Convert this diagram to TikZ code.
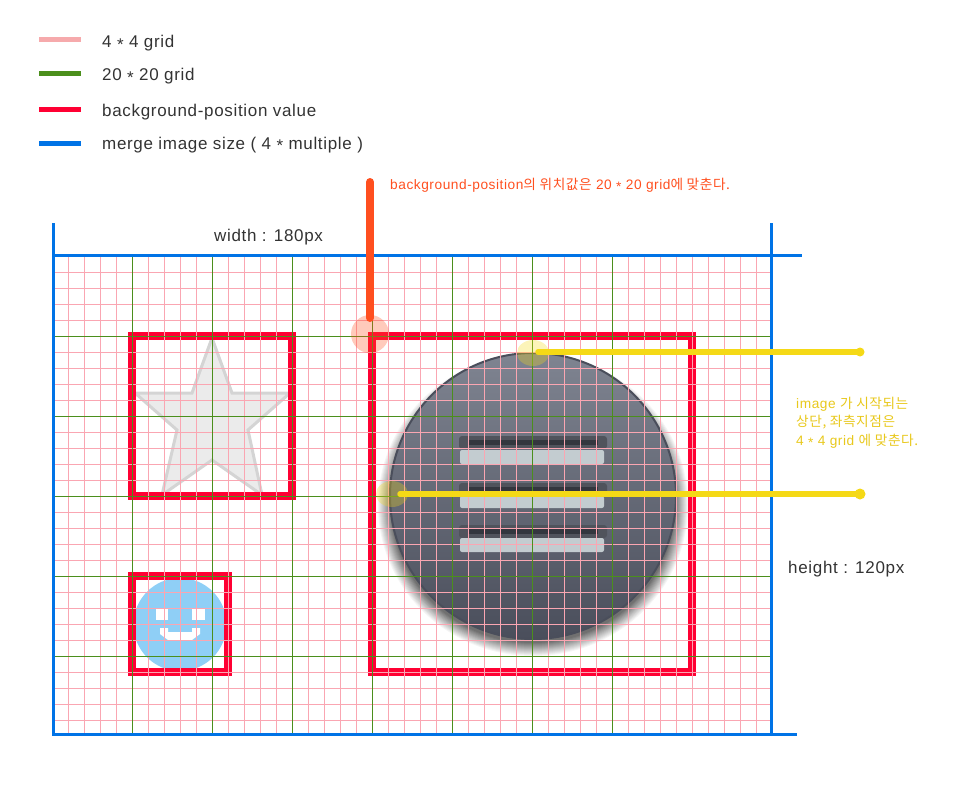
\documentclass[tikz,border=0pt]{standalone}
\usepackage{fontspec}
\setmainfont{Liberation Sans}[LetterSpace=4]
\newfontfamily\cjk{Noto Sans CJK KR}[LetterSpace=4]
\usetikzlibrary{
  positioning,
  shapes.geometric,
}
\definecolor{gridpink}{HTML}{FAA6B2}
\definecolor{legendpink}{HTML}{F6AAAC}
\definecolor{gridgreen}{HTML}{4B8F1C}
\definecolor{posred}{HTML}{FF0033}
\definecolor{sizeblue}{HTML}{0073E6}
\definecolor{noteorange}{HTML}{FF4F1F}
\definecolor{noteyellow}{HTML}{F5D916}
\definecolor{yellowtext}{HTML}{E8C81C}
\definecolor{darktext}{HTML}{333333}
\definecolor{smileblue}{HTML}{8FCFF6}
\definecolor{barlight}{HTML}{C3CCD0}
\definecolor{bardark}{HTML}{33363E}
\definecolor{barshade}{HTML}{50535C}
\definecolor{icontop}{HTML}{7F8491}
\definecolor{iconbottom}{HTML}{4A4E5B}
\newcommand{\gridstar}{\raisebox{-.3ex}{*}}
\tikzset{
  legendline/.style={line width=4.5pt},
  legendtext/.style={anchor=base west,inner sep=0pt,text=darktext,font=\fontsize{17}{20}\selectfont},
  frameline/.style={draw=sizeblue,line width=3.4pt},
  posbox/.style={draw=posred,line width=8pt},
  notetext/.style={anchor=base west,inner sep=0pt,font=\fontsize{13.7}{18.5}\selectfont},
  notedot/.style={ellipse,fill=noteyellow,fill opacity=.3,minimum width=32pt,minimum height=26pt,inner sep=0pt},
}

\begin{document}
\begin{tikzpicture}[x=1pt,y=-1pt]
  \useasboundingbox (0,0) rectangle (953,800);

  % legend
  \draw [legendline,legendpink] (39,39.5) -- (81,39.5);
  \draw [legendline,gridgreen] (39,73.5) -- (81,73.5);
  \draw [legendline,posred] (39,109.5) -- (81,109.5);
  \draw [legendline,sizeblue] (39,143.5) -- (81,143.5);
  \node [legendtext] at (102,48) (legendA) {4 \gridstar{} 4 grid};
  \node [legendtext] at (102,81) (legendB) {20 \gridstar{} 20 grid};
  \node [legendtext] at (102,116) (legendC) {background-position value};
  \node [legendtext] at (102,149) (legendD) {merge image size ( 4 \gridstar{} multiple )};

  % star
  \draw [draw=black!17,fill=black!8,line width=3pt,line join=miter]
    (212,338) -- (232,393) -- (290,393) -- (248,430) -- (262,495)
    -- (212,460) -- (162,495) -- (177,430) -- (135,393) -- (192,393) -- cycle;

  % smile
  \fill [smileblue] (180,624.5) circle (46.5);
  \fill [white] (156,608) rectangle (168,620);
  \fill [white] (192,608) rectangle (205,620);
  \fill [white] (160,628) -- (168,628) -- (168,632) -- (192,632) -- (192,628) -- (200,628)
    -- (200,634) -- (192,640) -- (168,640) -- (160,634) -- cycle;

  % round icon
  \foreach \i [evaluate=\i as \k using int(4*(14-\i))] in {14,...,0}
    \fill [black!\k] (533,505) ellipse ({142+\i} and {138+\i});
  \draw [draw=iconbottom,top color=icontop,bottom color=iconbottom,line width=2pt]
    (533,496) circle (143);
  \foreach \y in {436,483,525}{
    \fill [barshade,rounded corners=3pt] (459,\y) rectangle (607,\y+13);
    \fill [bardark] (468,\y+4) rectangle (598,\y+9);
  }
  \fill [barlight,rounded corners=2pt] (460,450) rectangle (604,464);
  \fill [barlight,rounded corners=2pt] (460,496) rectangle (604,508);
  \fill [barlight,rounded corners=2pt] (460,538) rectangle (604,552);

  % background-position boxes
  \draw [posbox] (132,336) rectangle (292,496);
  \draw [posbox] (132,576) rectangle (228,672);
  \draw [posbox] (372,336) rectangle (692,672);

  % grids
  \foreach \x in {68,84,...,756}
    \draw [gridpink,line width=1pt] (\x.5,256) -- (\x.5,734);
  \foreach \y in {272,288,...,720}
    \draw [gridpink,line width=1pt] (55,\y.5) -- (771,\y.5);
  \foreach \x in {132,212,...,612}
    \draw [gridgreen,line width=1pt] (\x.5,256) -- (\x.5,734);
  \foreach \y in {336,416,...,656}
    \draw [gridgreen,line width=1pt] (55,\y.5) -- (771,\y.5);

  % merge image size
  \draw [frameline] (53.5,223) -- (53.5,734.5);
  \draw [frameline] (771.5,223) -- (771.5,734.5);
  \draw [frameline] (52,255.5) -- (802,255.5);
  \draw [frameline] (52,734.5) -- (797,734.5);
  \node [legendtext] at (214,241) (widthlabel) {width : 180px};
  \node [legendtext] at (788,573) (heightlabel) {height : 120px};

  % notes
  \node [circle,fill=noteorange,fill opacity=.3,minimum size=38pt,inner sep=0pt] at (370,334) (posdot) {};
  \coordinate (posend) at (370,182);
  \draw [noteorange,line width=8pt,line cap=round] (posend) -- (370,318);
  \node [notetext,text=noteorange] at (390,189) (posnote)
    {background-position{\cjk 의 위치값은} 20 \gridstar{} 20 grid{\cjk 에 맞춘다.}};

  \node [notedot] at (533,353) (topdot) {};
  \node [notedot] at (392,494) (leftdot) {};
  \coordinate (topend) at (860,352);
  \coordinate (leftend) at (860,494);
  \draw [noteyellow,line width=5.5pt,line cap=round] (538,352) -- (topend);
  \draw [noteyellow,line width=5.5pt,line cap=round] (400,494) -- (leftend);
  \fill [noteyellow] (topend) circle (4.5);
  \fill [noteyellow] (leftend) circle (5.5);
  \node [notetext,align=left,text=yellowtext] at (796,445) (imgnote)
    {image {\cjk 가 시작되는}\\{\cjk 상단, 좌측지점은}\\4 \gridstar{} 4 grid {\cjk 에 맞춘다.}};
\end{tikzpicture}
\end{document}
